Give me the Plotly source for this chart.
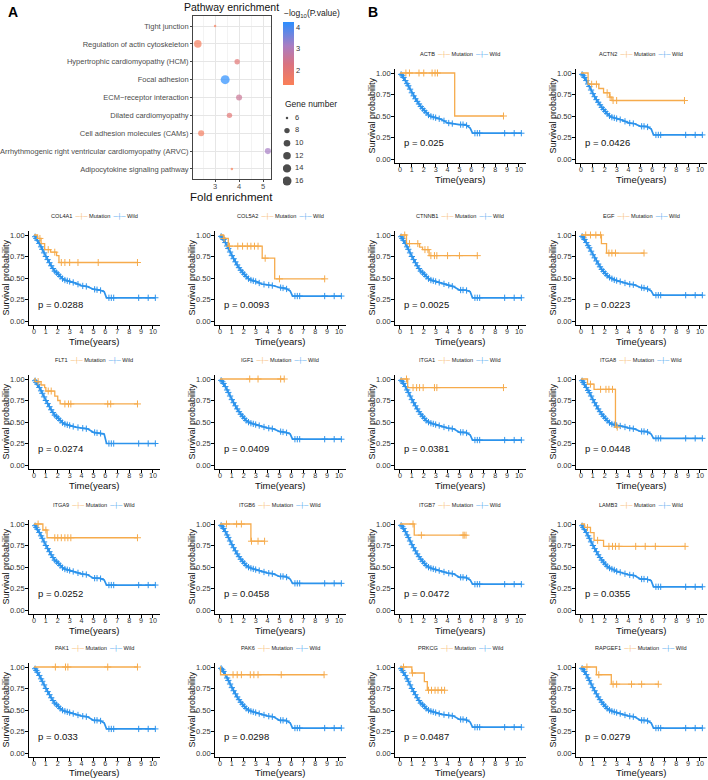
import plotly.graph_objects as go

# ---------------- Panel A data ----------------
PATHWAYS = ["Tight junction", "Regulation of actin cytoskeleton",
            "Hypertrophic cardiomyopathy (HCM)", "Focal adhesion",
            "ECM\u2212receptor interaction", "Dilated cardiomyopathy",
            "Cell adhesion molecules (CAMs)",
            "Arrhythmogenic right ventricular cardiomyopathy (ARVC)",
            "Adipocytokine signaling pathway"]
FOLD = [3.0, 2.28, 3.92, 3.42, 4.0, 3.6, 2.42, 5.2, 3.7]
GENE_NUM = [6, 12, 8, 16, 9, 8, 9, 9, 6]
NEGLOGP = [1.4, 1.45, 2.0, 4.23, 2.55, 2.0, 1.5, 3.15, 1.3]
SIZE_LEGEND = [6, 8, 10, 12, 14, 16]

# ---------------- Panel B data ----------------
GENES = ["ACTB", "ACTN2", "COL4A1", "COL5A2", "CTNNB1", "EGF", "FLT1", "IGF1",
         "ITGA1", "ITGA8", "ITGA9", "ITGB6", "ITGB7", "LAMB3", "PAK1", "PAK6",
         "PRKCG", "RAPGEF1"]
PVALS = ["0.025", "0.0426", "0.0288", "0.0093", "0.0025", "0.0223", "0.0274",
         "0.0409", "0.0381", "0.0448", "0.0252", "0.0458", "0.0472", "0.0355",
         "0.033", "0.0298", "0.0487", "0.0279"]

MUT_T = {
    "ACTB": [0, 4.6, 8.7], "ACTN2": [0, 0.6, 1.5, 1.9, 2.4, 2.6, 8.7],
    "COL4A1": [0, 0.3, 0.6, 0.9, 1.4, 1.9, 2.1, 8.7],
    "COL5A2": [0, 0.3, 0.7, 3.55, 4.6, 8.8],
    "CTNNB1": [0, 0.55, 1.65, 1.9, 2.45, 6.5], "EGF": [0, 1.72, 2.15, 5.3],
    "FLT1": [0, 0.1, 0.6, 0.9, 1.0, 1.75, 2.0, 2.2, 8.7], "IGF1": [0, 5.4],
    "ITGA1": [0, 0.65, 8.7], "ITGA8": [0, 0.55, 1.1, 2.9, 3.05],
    "ITGA9": [0, 0.75, 1.1, 8.7], "ITGB6": [0, 2.6, 3.75], "ITGB7": [0, 1.2, 5.55],
    "LAMB3": [0, 0.3, 0.8, 1.1, 1.9, 8.75], "PAK1": [0, 8.7], "PAK6": [0, 0.05, 8.75],
    "PRKCG": [0, 1.0, 2.05, 2.3, 3.8], "RAPGEF1": [0, 1.3, 2.55, 6.5],
}
MUT_S = {
    "ACTB": [1, 0.5, 0.5], "ACTN2": [1, 0.87, 0.82, 0.77, 0.72, 0.68, 0.68],
    "COL4A1": [1, 0.96, 0.9, 0.83, 0.8, 0.76, 0.68, 0.68],
    "COL5A2": [1, 0.96, 0.87, 0.73, 0.49, 0.49],
    "CTNNB1": [1, 0.9, 0.86, 0.83, 0.76, 0.76], "EGF": [1, 0.9, 0.79, 0.79],
    "FLT1": [1, 0.97, 0.93, 0.9, 0.86, 0.8, 0.75, 0.71, 0.71], "IGF1": [1, 1],
    "ITGA1": [1, 0.9, 0.9], "ITGA8": [1, 0.94, 0.88, 0.44, 0.44],
    "ITGA9": [1, 0.93, 0.84, 0.84], "ITGB6": [1, 0.8, 0.8], "ITGB7": [1, 0.87, 0.87],
    "LAMB3": [1, 0.96, 0.9, 0.81, 0.74, 0.74], "PAK1": [1, 1], "PAK6": [1, 0.91, 0.91],
    "PRKCG": [1, 0.93, 0.83, 0.73, 0.73], "RAPGEF1": [1, 0.91, 0.8, 0.8],
}
MUT_CENS = {
    "ACTB": [0.5, 0.8, 1.6, 2.0, 2.7, 2.95, 3.15, 8.7],
    "ACTN2": [0.9, 1.3, 2.2, 2.45, 2.7, 3.0, 8.7],
    "COL4A1": [0.5, 1.2, 1.75, 2.3, 2.6, 3.0, 3.7, 5.4, 8.7],
    "COL5A2": [0.35, 0.8, 1.5, 1.9, 2.3, 2.6, 2.9, 3.2, 3.8, 5.0, 8.8],
    "CTNNB1": [0.4, 0.8, 1.5, 2.1, 2.35, 2.6, 2.9, 3.1, 4.0, 5.0, 6.5],
    "EGF": [0.4, 0.8, 1.25, 1.65, 2.35, 2.6, 2.9, 5.3],
    "FLT1": [0.35, 1.2, 1.45, 2.6, 2.9, 3.1, 6.2, 6.45, 8.7],
    "IGF1": [2.5, 3.2, 5.1, 5.4],
    "ITGA1": [0.55, 1.1, 1.4, 1.65, 1.95, 2.9, 3.1, 8.7],
    "ITGA8": [0.8, 1.65, 2.1, 2.35, 2.65, 3.05],
    "ITGA9": [0.35, 1.0, 1.75, 2.0, 2.3, 2.6, 2.85, 3.1, 8.7],
    "ITGB6": [0.55, 1.4, 1.8, 2.65, 3.2, 3.75],
    "ITGB7": [1.1, 1.8, 5.3, 5.4, 5.55],
    "LAMB3": [0.55, 1.4, 2.35, 2.65, 2.9, 3.2, 4.6, 5.4, 6.25, 8.75],
    "PAK1": [1.8, 2.65, 2.85, 6.2, 8.7],
    "PAK6": [1.1, 1.45, 1.8, 2.55, 2.85, 3.2, 5.15, 8.75],
    "PRKCG": [0.3, 1.05, 2.4, 2.65, 2.95, 3.2, 3.5, 3.75],
    "RAPGEF1": [0.5, 1.5, 2.7, 3.0, 4.25, 5.1, 6.5],
}

WILD_T = [0, 0.25, 0.5, 0.75, 1, 1.25, 1.5, 1.75, 2, 2.25, 2.5, 2.75, 3, 3.5, 4,
          4.5, 5, 5.5, 5.9, 6.1, 10.2]
WILD_S = {
    "ACTB": [1, .96, .90, .84, .77, .71, .66, .61, .57, .53, .50, .49, .48, .46, .42, .41, .40, .40, .36, .30, .30],
    "ACTN2": [1, .96, .90, .83, .76, .70, .65, .60, .56, .52, .49, .48, .47, .45, .42, .41, .38, .38, .35, .28, .28],
    "COL4A1": [1, .95, .89, .82, .75, .69, .63, .58, .55, .51, .48, .47, .46, .44, .41, .40, .37, .36, .34, .27, .27],
    "COL5A2": [1, .96, .90, .83, .76, .70, .64, .59, .55, .51, .48, .47, .46, .43, .42, .41, .39, .38, .35, .29, .29],
    "CTNNB1": [1, .95, .89, .82, .75, .69, .63, .58, .55, .51, .48, .47, .46, .44, .42, .40, .36, .36, .34, .27, .27],
    "EGF": [1, .96, .90, .84, .77, .71, .65, .60, .56, .52, .50, .48, .47, .45, .43, .42, .39, .38, .35, .30, .30],
    "FLT1": [1, .95, .89, .82, .75, .69, .63, .58, .55, .51, .48, .47, .46, .44, .43, .42, .38, .37, .36, .25, .25],
    "IGF1": [1, .96, .90, .83, .76, .70, .64, .59, .55, .51, .49, .48, .47, .45, .43, .42, .39, .38, .36, .30, .30],
    "ITGA1": [1, .96, .90, .83, .76, .70, .64, .59, .55, .51, .49, .48, .47, .45, .43, .42, .38, .38, .35, .29, .29],
    "ITGA8": [1, .95, .89, .83, .76, .70, .64, .59, .55, .51, .48, .47, .46, .45, .43, .42, .39, .39, .36, .31, .31],
    "ITGA9": [1, .95, .89, .82, .75, .69, .63, .58, .55, .51, .48, .47, .46, .44, .42, .41, .37, .37, .35, .29, .29],
    "ITGB6": [1, .96, .90, .83, .76, .70, .64, .59, .55, .51, .49, .48, .47, .45, .43, .42, .39, .39, .36, .31, .31],
    "ITGB7": [1, .96, .90, .83, .76, .70, .64, .59, .55, .51, .49, .48, .47, .45, .43, .42, .38, .38, .35, .30, .30],
    "LAMB3": [1, .95, .89, .82, .75, .69, .63, .58, .54, .50, .48, .47, .45, .43, .41, .40, .36, .36, .34, .27, .27],
    "PAK1": [1, .95, .89, .82, .75, .69, .63, .58, .55, .51, .49, .48, .47, .45, .43, .42, .38, .38, .35, .28, .28],
    "PAK6": [1, .96, .90, .83, .76, .70, .64, .59, .55, .51, .49, .48, .47, .45, .43, .42, .38, .38, .35, .29, .29],
    "PRKCG": [1, .95, .89, .82, .75, .69, .63, .58, .55, .51, .49, .48, .47, .45, .44, .43, .39, .39, .36, .30, .30],
    "RAPGEF1": [1, .96, .90, .83, .76, .70, .64, .59, .55, .51, .49, .48, .47, .45, .43, .42, .38, .38, .35, .29, .29],
}
WILD_CENS = [0.1, 0.2, 0.3, 0.45, 0.6, 0.7, 0.85, 1.0, 1.15, 1.3, 1.45, 1.6, 1.75,
             1.9, 2.05, 2.2, 2.4, 2.6, 2.8, 3.0, 3.3, 3.7, 4.1, 4.4, 5.1, 5.3,
             5.6, 6.3, 6.5, 6.7, 8.8, 9.6, 10.2]

X_TICKS = list(range(0, 11))
Y_TICKS = [0, 0.25, 0.5, 0.75, 1.0]

# ---------------- style ----------------
FONT = "Liberation Sans, Arial, DejaVu Sans, sans-serif"
MUT_COL = "#F6AB4C"
WILD_COL = "#2C93EC"
W, H = 708, 780


def px_x(a, b):
    return [a / W, b / W]


def px_y(top, bottom):
    return [1 - bottom / H, 1 - top / H]


def step_at(T, S, t):
    v = S[0]
    for ti, si in zip(T, S):
        if ti <= t + 1e-9:
            v = si
    return v


def interp_at(T, S, t):
    for k in range(len(T) - 1):
        if T[k] <= t <= T[k + 1]:
            f = (t - T[k]) / (T[k + 1] - T[k])
            return S[k] + f * (S[k + 1] - S[k])
    return S[-1]


fig = go.Figure()
annotations = []


def add_text(text, x, y, size, xanchor="center", color="#222", **kw):
    d = dict(text=text, x=x / W, y=1 - y / H, xref="paper", yref="paper",
             showarrow=False, xanchor=xanchor, yanchor="middle",
             font=dict(size=size, color=color, family=FONT))
    d.update(kw)
    annotations.append(d)


# ---------------- Panel A: bubble chart ----------------
def bubble_d(n):
    return 2.5 + 6.5 * ((n - 6) / 10) ** 0.5


fig.add_trace(go.Scatter(
    x=FOLD, y=PATHWAYS, mode="markers", xaxis="x", yaxis="y", showlegend=False,
    marker=dict(size=[bubble_d(n) for n in GENE_NUM], sizemode="diameter",
                color=NEGLOGP, line=dict(width=0),
                colorscale=[[0, "#FA7F57"], [0.33, "#DA7380"], [0.62, "#AA7DC2"], [1, "#2B8EFF"]],
                showscale=True,
                colorbar=dict(x=283 / W, xanchor="left", y=1 - 85 / H, yanchor="bottom",
                              len=63, lenmode="pixels", thickness=11, thicknessmode="pixels",
                              outlinewidth=0, tickvals=[2, 3, 4], ticks="", ypad=0, xpad=0,
                              tickfont=dict(size=7.5, color="#333", family=FONT)))))
add_text("\u2212log<sub>10</sub>(P.value)", 282, 13, 8.5, xanchor="left")

# size legend
fig.add_trace(go.Scatter(
    x=[4] * len(SIZE_LEGEND), y=SIZE_LEGEND, mode="markers", xaxis="x2", yaxis="y2",
    showlegend=False, hoverinfo="skip",
    marker=dict(size=[bubble_d(n) for n in SIZE_LEGEND], sizemode="diameter",
                color="black", line=dict(width=0))))
fig.add_trace(go.Scatter(
    x=[12] * len(SIZE_LEGEND), y=SIZE_LEGEND, mode="text", xaxis="x2", yaxis="y2",
    text=[str(s) for s in SIZE_LEGEND], textposition="middle right", showlegend=False,
    textfont=dict(size=7.5, color="#333", family=FONT), hoverinfo="skip"))

layout = dict(
    width=W, height=H, margin=dict(l=0, r=0, t=0, b=0, autoexpand=False),
    paper_bgcolor="white", plot_bgcolor="white",
    font=dict(family=FONT, color="#222"),
    showlegend=False,
)
layout["xaxis"] = dict(domain=px_x(193, 271), range=[2.08, 5.33], tickvals=[3, 4, 5],
                       showgrid=True, gridcolor="#E6E6E6", gridwidth=0.8,
                       minor=dict(dtick=0.5, tick0=2.5, showgrid=True, gridcolor="#F3F3F3"),
                       showline=True, mirror=True, linecolor="#444", linewidth=0.8,
                       ticks="outside", ticklen=2, tickcolor="#444", zeroline=False,
                       automargin=False, ticklabelstandoff=-2,
                       tickfont=dict(size=7.5, color="#4D4D4D", family=FONT), anchor="y")
layout["yaxis"] = dict(domain=px_y(16, 179), type="category",
                       categoryorder="array", categoryarray=PATHWAYS[::-1],
                       range=[-0.56, len(PATHWAYS) - 0.44],
                       showgrid=True, gridcolor="#E6E6E6", gridwidth=0.8,
                       showline=True, mirror=True, linecolor="#444", linewidth=0.8,
                       ticks="outside", ticklen=2, tickcolor="#444", zeroline=False,
                       automargin=False,
                       tickfont=dict(size=7.5, color="#4D4D4D", family=FONT), anchor="x")
layout["xaxis2"] = dict(domain=px_x(283, 310), range=[0, 27], visible=False, anchor="y2",
                        automargin=False)
layout["yaxis2"] = dict(domain=px_y(112, 187), range=[16.95, 5.05], visible=False, anchor="x2",
                        automargin=False)

add_text("Pathway enrichment", 232, 7, 10.5, color="#111")
add_text("Fold enrichment", 232, 197, 11.5, color="#111")
add_text("Gene number", 283, 104, 8.5, xanchor="left")
add_text("<b>A</b>", 6, 12, 14, xanchor="left", color="black")
add_text("<b>B</b>", 366, 12, 14, xanchor="left", color="black")

# ---------------- Panel B: KM curves ----------------
COL_PX = [(28.6, 159.5), (214.6, 345.5), (394.6, 525.5), (575.6, 706.5)]
ROW_TOP = [73, 235, 379, 524, 667]   # pixel of y=1.00
SCALE_Y = 86
positions = [(0, 2), (0, 3)] + [(r, c) for r in range(1, 5) for c in range(4)]

for i, g in enumerate(GENES):
    r, c = positions[i]
    ax = i + 3
    xn, yn = f"x{ax}", f"y{ax}"
    top = ROW_TOP[r] - 0.05 * SCALE_Y
    bot = ROW_TOP[r] + 1.05 * SCALE_Y
    layout[f"xaxis{ax}"] = dict(
        domain=px_x(*COL_PX[c]), range=[-0.45, 10.55], tickvals=X_TICKS,
        showgrid=False, zeroline=False, showline=True, linecolor="black", linewidth=0.9,
        ticks="outside", ticklen=2.5, tickcolor="black", tickwidth=0.8, automargin=False,
        ticklabelstandoff=-3,
        tickfont=dict(size=7.2, color="#333", family=FONT), anchor=yn)
    layout[f"yaxis{ax}"] = dict(
        domain=px_y(top, bot), range=[-0.05, 1.05], tickvals=Y_TICKS, tickformat=".2f",
        showgrid=False, zeroline=False, showline=True, linecolor="black", linewidth=0.9,
        ticks="outside", ticklen=2.5, tickcolor="black", tickwidth=0.8, automargin=False,
        ticklabelstandoff=-1,
        tickfont=dict(size=7.5, color="#333", family=FONT), anchor=xn)

    # wild
    fig.add_trace(go.Scatter(x=WILD_T, y=WILD_S[g], mode="lines",
                             line=dict(color=WILD_COL, width=1.7), xaxis=xn, yaxis=yn,
                             hoverinfo="skip"))
    fig.add_trace(go.Scatter(x=WILD_CENS, y=[interp_at(WILD_T, WILD_S[g], t) for t in WILD_CENS],
                             mode="markers", xaxis=xn, yaxis=yn, hoverinfo="skip",
                             marker=dict(symbol="cross-thin", size=4.5, color=WILD_COL,
                                         line=dict(color=WILD_COL, width=1))))
    # mutation
    fig.add_trace(go.Scatter(x=MUT_T[g], y=MUT_S[g], mode="lines", line_shape="hv",
                             line=dict(color=MUT_COL, width=1.3), xaxis=xn, yaxis=yn,
                             hoverinfo="skip"))
    fig.add_trace(go.Scatter(x=MUT_CENS[g], y=[step_at(MUT_T[g], MUT_S[g], t) for t in MUT_CENS[g]],
                             mode="markers", xaxis=xn, yaxis=yn, hoverinfo="skip",
                             marker=dict(symbol="cross-thin", size=5, color=MUT_COL,
                                         line=dict(color=MUT_COL, width=1))))
    # p-value
    annotations.append(dict(text=f"p = {PVALS[i]}", x=0.2, y=0.19, xref=xn, yref=yn,
                            showarrow=False, xanchor="left", yanchor="middle",
                            font=dict(size=9.5, color="#111", family=FONT)))
    # axis titles
    annotations.append(dict(text="Time(years)", x=0.5, y=0, xref=f"{xn} domain",
                            yref=f"{yn} domain", yshift=-15.5 if r == 4 else -16,
                            showarrow=False, xanchor="center", yanchor="middle",
                            font=dict(size=9.5, color="#111", family=FONT)))
    annotations.append(dict(text="Survival probability", x=0, y=0.5, xref=f"{xn} domain",
                            yref=f"{yn} domain", xshift=-23, showarrow=False, textangle=-90,
                            xanchor="center", yanchor="middle",
                            font=dict(size=9, color="#111", family=FONT)))
    # legend
    leg = (f"{g}  <span style='color:{MUT_COL}'>\u2500\u253c\u2500</span> Mutation  "
           f"<span style='color:{WILD_COL}'>\u2500\u253c\u2500</span> Wild")
    annotations.append(dict(text=leg, x=0.5, y=1, xref=f"{xn} domain", yref=f"{yn} domain",
                            yshift=15, showarrow=False, xanchor="center", yanchor="middle",
                            font=dict(size=5.6, color="#222", family=FONT)))

layout["annotations"] = annotations
fig.update_layout(**layout)
fig.write_html("out.html", config={"displayModeBar": False},
               post_script="document.body.style.margin='0';document.body.style.overflow='hidden';")
